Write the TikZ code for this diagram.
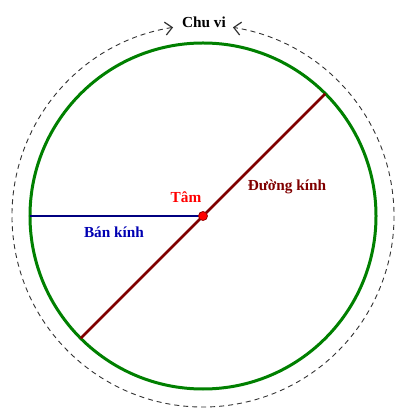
\documentclass[tikz,border=0pt]{standalone}
\usepackage{fontspec}
\setmainfont{Liberation Serif}
\usetikzlibrary{arrows.meta}
\usetikzlibrary{calc}

\begin{document}
\begin{tikzpicture}[x=1pt,y=1pt,font=\fontsize{15.3}{17}\selectfont\bfseries,
		vong/.style={line width=3pt,draw=green!50!black},
		duongkinh/.style={line width=2.6pt,draw=red!50!black},
		bankinh/.style={line width=2.8pt,draw=blue!50!black},
		chuvi/.style={line width=0.9pt,draw=black!80,dash pattern=on 5pt off 4pt,
			{Straight Barb[length=7pt,width=13pt,line width=1.2pt]}-{Straight Barb[length=7pt,width=13pt,line width=1.2pt]}}]
	\useasboundingbox (-203,-203) rectangle (202,216);
	\coordinate (O) at (0,0);
	\coordinate (d1) at (45:173);
	\coordinate (d2) at (225:173);
	\coordinate (r1) at (180:173);
	\draw[vong] (O) circle (173);
	\draw[chuvi] (99:191) arc (99:441:191);
	\draw[duongkinh] (d2) -- (d1);
	\draw[bankinh] (r1) -- (O);
	\node[circle,fill=red,draw=red!60!black,line width=0.8pt,inner sep=0pt,minimum size=9pt] (tam) at (O) {};
	% nhan
	\node (lchuvi) at (1,194) {Chu vi};
	\node[text=red] (ltam) at (-17,19) {Tâm};
	\node[text=red!50!black] (lduongkinh) at (84,29) {Đường kính};
	\node[text=blue!70!black] (lbankinh) at (-89,-16) {Bán kính};
\end{tikzpicture}
\end{document}
